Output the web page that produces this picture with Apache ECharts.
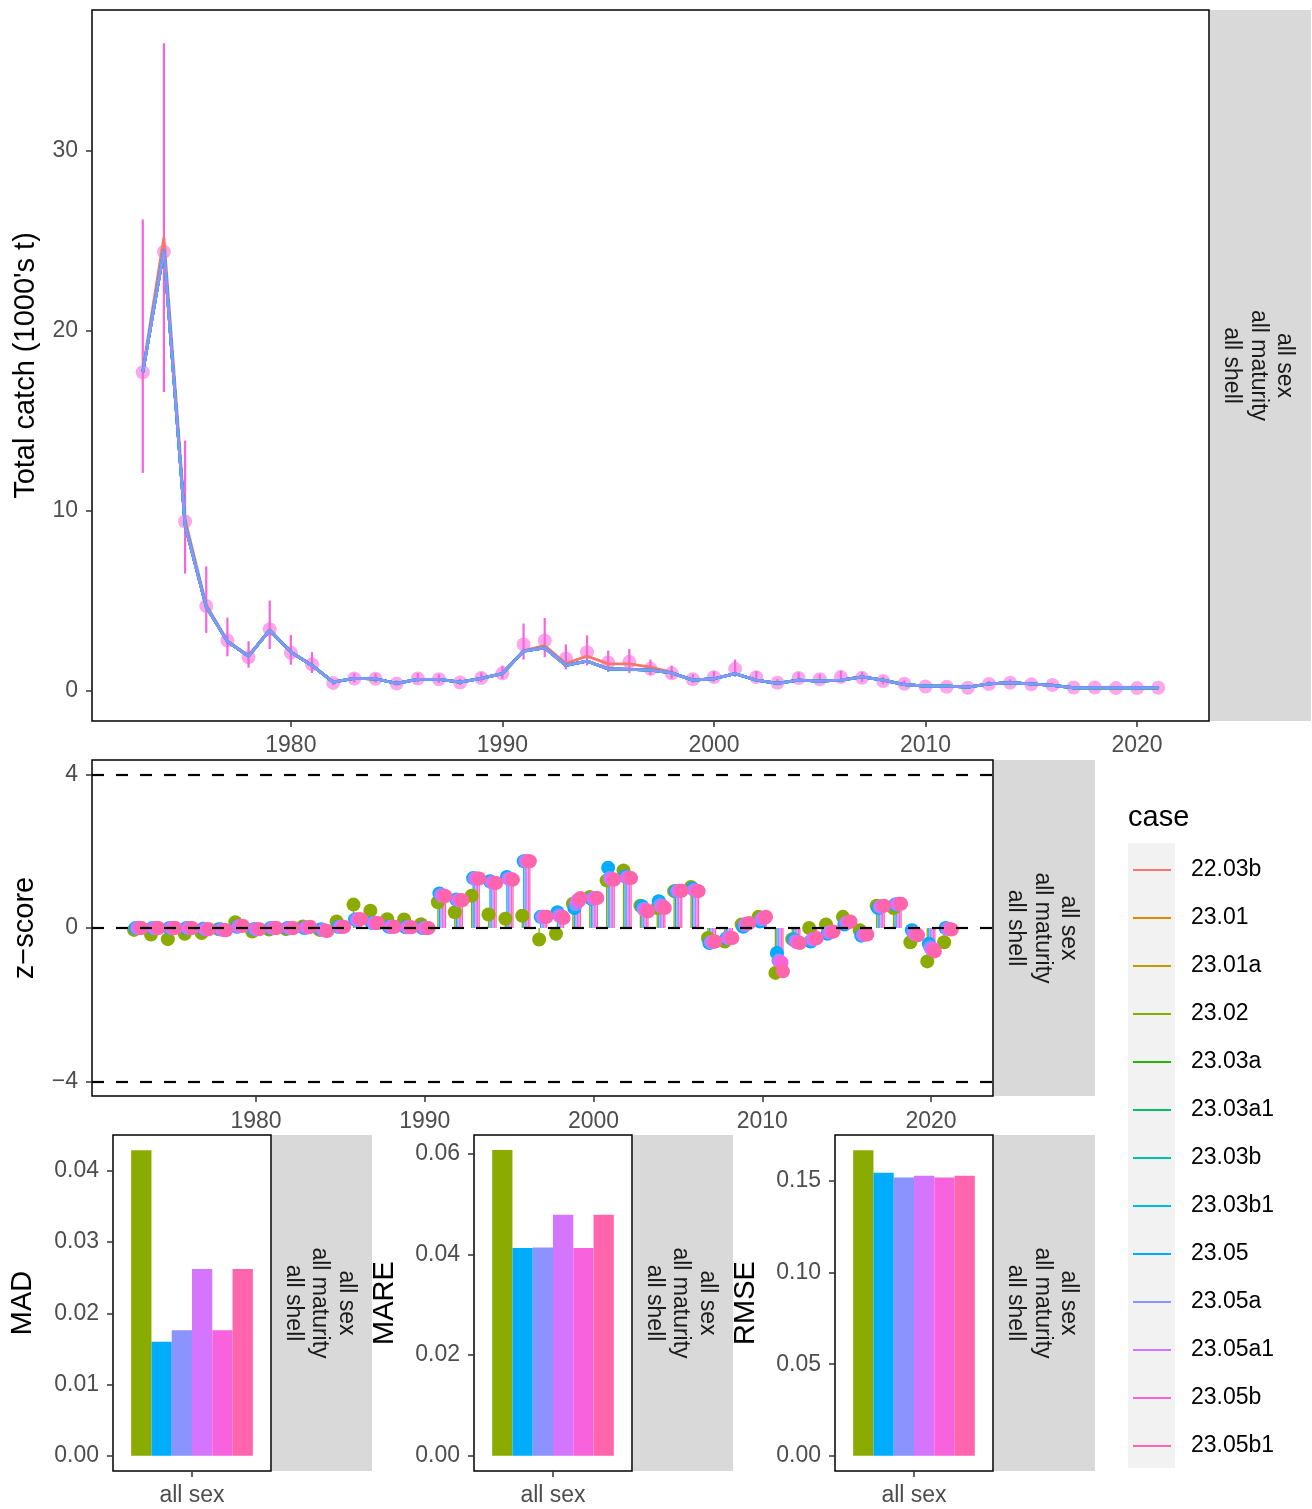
<!DOCTYPE html>
<html><head><meta charset="utf-8">
<script src="https://cdn.jsdelivr.net/npm/echarts@6/dist/echarts.min.js"></script>
<style>html,body{margin:0;padding:0;background:#fff}#c{width:1312px;height:1509px}</style>
</head><body><div id="c"></div>
<script>
const years = [1973,1974,1975,1976,1977,1978,1979,1980,1981,1982,1983,1984,1985,1986,1987,1988,1989,1990,1991,1992,1993,1994,1995,1996,1997,1998,1999,2000,2001,2002,2003,2004,2005,2006,2007,2008,2009,2010,2011,2012,2013,2014,2015,2016,2017,2018,2019,2020,2021];

const cases = ['22.03b','23.01','23.01a','23.02','23.03a','23.03a1','23.03b','23.03b1','23.05','23.05a','23.05a1','23.05b','23.05b1'];
const caseColors = ['#F8766D','#E18A00','#BE9C00','#8CAB00','#24B700','#00BE70','#00C1AB','#00BBDA','#00ACFC','#8B93FF','#D575FE','#F962DD','#FF65AC'];

// observed total catch (1000's t) with interval
const obsCatch = [17.7,24.4,9.4,4.7,2.78,1.85,3.4,2.1,1.45,0.42, 0.66,0.65,0.38,0.66,0.62,0.44,0.69,0.95,2.56,2.78, 1.78,2.13,1.55,1.59,1.2,0.95,0.62,0.74,1.2,0.74, 0.43,0.69,0.62,0.75,0.7,0.52,0.37,0.22,0.2,0.15, 0.36,0.43,0.34,0.3,0.16,0.16,0.13,0.13,0.15];
const obsLo = [12.1,16.6,6.5,3.2,1.9,1.27,2.3,1.43,0.97,0.29, 0.45,0.44,0.26,0.45,0.42,0.3,0.47,0.65,1.72,1.85, 1.17,1.39,1.02,0.96,0.85,0.65,0.42,0.5,0.76,0.5, 0.29,0.47,0.42,0.51,0.48,0.35,0.25,0.15,0.14,0.1, 0.25,0.29,0.23,0.2,0.11,0.11,0.09,0.09,0.1];
const obsHi = [26.2,36.0,13.9,6.9,4.05,2.74,5.0,3.09,2.13,0.61, 0.96,0.95,0.56,0.96,0.9,0.64,1.0,1.38,3.72,4.03, 2.56,3.06,2.22,2.31,1.72,1.38,0.9,1.07,1.72,1.07, 0.62,1.0,0.9,1.09,1.02,0.76,0.54,0.32,0.29,0.22, 0.52,0.62,0.49,0.43,0.23,0.23,0.19,0.19,0.22];

// model fits
const fit2203b = [17.8,25.2,9.5,4.75,2.75,1.93,3.38,2.15,1.41,0.47, 0.67,0.65,0.39,0.61,0.61,0.46,0.67,0.95,2.22,2.5, 1.5,1.91,1.48,1.48,1.3,1.0,0.58,0.65,0.93,0.57, 0.39,0.57,0.52,0.57,0.76,0.57,0.33,0.24,0.24,0.19, 0.37,0.43,0.37,0.28,0.15,0.15,0.15,0.15,0.15];
const fit23 = [17.7,24.5,9.2,4.65,2.72,1.91,3.35,2.13,1.39,0.46, 0.67,0.65,0.39,0.61,0.61,0.46,0.67,0.94,2.19,2.37, 1.39,1.63,1.2,1.17,1.13,0.98,0.57,0.65,0.93,0.57, 0.39,0.57,0.52,0.57,0.76,0.57,0.33,0.24,0.24,0.19, 0.37,0.43,0.37,0.28,0.15,0.15,0.15,0.15,0.15];
const lineCases = ['22.03b','23.01','23.01a','23.02','23.03a','23.03a1','23.03b','23.03b1','23.05','23.05a'];

// z-scores
const zCases = ['23.02','23.05','23.05a','23.05a1','23.05b','23.05b1'];
const z2302 = [-0.05,-0.17,-0.29,-0.15,-0.13,-0.03,0.15,-0.09,-0.04,-0.03, 0.04,-0.05,0.17,0.61,0.45,0.23,0.22,0.10,0.67,0.41, 0.84,0.35,0.24,0.32,-0.30,-0.15,0.63,0.81,1.24,1.50, 0.58,0.52,0.96,1.07,-0.26,-0.35,0.09,0.29,-1.17,-0.29, 0.00,0.09,0.29,-0.06,0.58,0.52,-0.37,-0.87,-0.37];
const z2305 = [0.00,0.00,0.00,0.00,-0.02,-0.03,0.03,-0.03,0.00,0.00, 0.00,-0.03,0.03,0.22,0.13,0.03,0.02,0.00,0.90,0.74, 1.30,1.22,1.33,1.74,0.29,0.41,0.52,0.76,1.57,1.35, 0.57,0.70,0.96,1.03,-0.39,-0.27,0.03,0.17,-0.65,-0.30, -0.35,-0.15,0.09,-0.20,0.52,0.61,-0.06,-0.41,0.00];
const z2305a = [0.00,0.00,0.00,0.00,-0.03,-0.04,0.04,-0.03,0.00,0.00, 0.01,-0.05,0.03,0.22,0.13,0.03,0.02,0.00,0.86,0.73, 1.29,1.19,1.29,1.74,0.29,0.33,0.62,0.77,1.30,1.32, 0.50,0.60,0.96,0.99,-0.37,-0.26,0.08,0.23,-0.85,-0.34, -0.30,-0.12,0.13,-0.18,0.55,0.62,-0.12,-0.50,-0.02];
const z2305a1 = [0.00,0.00,0.00,0.00,-0.03,-0.05,0.05,-0.03,0.00,0.00, 0.02,-0.06,0.03,0.23,0.13,0.03,0.02,0.00,0.84,0.72, 1.29,1.18,1.27,1.74,0.29,0.29,0.72,0.78,1.27,1.31, 0.46,0.55,0.97,0.97,-0.36,-0.26,0.11,0.27,-0.88,-0.37, -0.28,-0.10,0.15,-0.17,0.57,0.63,-0.16,-0.56,-0.03];
const z2305b = [0.00,0.00,0.00,0.00,-0.03,-0.05,0.05,-0.03,0.00,0.00, 0.02,-0.07,0.03,0.23,0.13,0.03,0.02,0.00,0.85,0.72, 1.29,1.18,1.28,1.74,0.29,0.30,0.70,0.78,1.28,1.31, 0.47,0.56,0.97,0.97,-0.36,-0.26,0.11,0.26,-0.90,-0.37, -0.28,-0.10,0.15,-0.17,0.57,0.63,-0.15,-0.55,-0.03];
const z2305b1 = [0.00,0.00,0.00,0.00,-0.03,-0.06,0.06,-0.03,0.00,0.00, 0.03,-0.08,0.03,0.23,0.13,0.03,0.02,0.00,0.83,0.72, 1.29,1.17,1.26,1.74,0.29,0.26,0.78,0.78,1.26,1.30, 0.43,0.52,0.97,0.96,-0.35,-0.26,0.13,0.29,-1.13,-0.39, -0.26,-0.09,0.17,-0.17,0.58,0.63,-0.19,-0.61,-0.04];
const zSeriesData = [z2302, z2305, z2305a, z2305a1, z2305b, z2305b1];

// fit statistics
const madVals  = [0.0429, 0.0160, 0.01763, 0.02622, 0.01763, 0.02622];
const mareVals = [0.0608, 0.0413, 0.0414, 0.0479, 0.0413, 0.0479];
const rmseVals = [0.1668, 0.1545, 0.1520, 0.1529, 0.1520, 0.1529];
const barCategory = ['all sex'];

const catchTicks = [0, 10, 20, 30];
const yearTicks = [1980, 1990, 2000, 2010, 2020];
const zTicks = [-4, 0, 4];
const madTicks = [0, 0.01, 0.02, 0.03, 0.04];
const mareTicks = [0, 0.02, 0.04, 0.06];
const rmseTicks = [0, 0.05, 0.10, 0.15];
const stripLabel = 'all sex\nall maturity\nall shell';

const FONT = "'Liberation Sans', Arial, Helvetica, sans-serif";
const colorOf = c => caseColors[cases.indexOf(c)];
const minusFmt = v => (v < 0 ? '\u2212' + Math.abs(v) : String(v));
const plainFmt = v => String(v);

const chart = echarts.init(document.getElementById('c'));

const grids = [
  {left: 92, top: 10, width: 1117, height: 711},
  {left: 92, top: 760, width: 901, height: 336},
  {left: 113, top: 1135, width: 158, height: 336},
  {left: 474, top: 1135, width: 158, height: 336},
  {left: 835, top: 1135, width: 158, height: 336}
].map(g => Object.assign(g, {show: true, borderColor: '#000', borderWidth: 1.5, backgroundColor: '#fff'}));

const labelStyle = {color: '#4D4D4D', fontSize: 23, fontFamily: FONT};
const tickStyle = {show: true, length: 6, lineStyle: {color: '#333', width: 1.5}};
const nameStyle = {color: '#000', fontSize: 29, fontFamily: FONT};

function valueAxis(gi, min, max, ticks, fmt, margin, extra, pad) {
  return Object.assign({
    type: 'value', gridIndex: gi, min: min, max: max,
    axisLine: {show: false, onZero: false}, splitLine: {show: false},
    axisTick: Object.assign({customValues: ticks}, tickStyle),
    axisLabel: Object.assign({customValues: ticks, formatter: fmt, margin: margin, padding: pad || 0}, labelStyle)
  }, extra || {});
}
function catAxis(gi) {
  return {type: 'category', gridIndex: gi, data: barCategory,
    axisLine: {show: false, onZero: false},
    axisTick: Object.assign({alignWithLabel: true}, tickStyle),
    axisLabel: Object.assign({margin: 13}, labelStyle)};
}

const xAxes = [
  valueAxis(0, 1970.6, 2023.4, yearTicks, plainFmt, 13),
  valueAxis(1, 1970.28, 2023.67, yearTicks, plainFmt, 14),
  catAxis(2), catAxis(3), catAxis(4)
];

const yPad = [4, 0, 0, 0];
const yAxes = [
  valueAxis(0, -1.7, 37.85, catchTicks, plainFmt, 14, {name: "Total catch (1000's t)", nameLocation: 'middle', nameGap: 52, nameTextStyle: nameStyle}, yPad),
  valueAxis(1, -4.378, 4.378, zTicks, minusFmt, 14, {name: 'z\u2212score', nameLocation: 'middle', nameGap: 53, nameTextStyle: nameStyle}, yPad),
  valueAxis(2, -0.00215, 0.04505, madTicks, v => v.toFixed(2), 14, {name: 'MAD', nameLocation: 'middle', nameGap: 76, nameTextStyle: nameStyle}, yPad),
  valueAxis(3, -0.00304, 0.06376, mareTicks, v => v.toFixed(2), 14, {name: 'MARE', nameLocation: 'middle', nameGap: 75, nameTextStyle: nameStyle}, yPad),
  valueAxis(4, -0.00834, 0.17514, rmseTicks, v => v.toFixed(2), 14, {name: 'RMSE', nameLocation: 'middle', nameGap: 75, nameTextStyle: nameStyle}, yPad)
];

const series = [];

// observed points
series.push({
  name: 'observed', type: 'scatter', xAxisIndex: 0, yAxisIndex: 0, z: 3,
  symbolSize: 14, itemStyle: {color: 'rgba(249,98,221,0.7)'},
  data: years.map((y, i) => [y, obsCatch[i]])
});
// error bars
series.push({
  name: 'observed interval', type: 'custom', xAxisIndex: 0, yAxisIndex: 0, z: 4,
  data: years.map((y, i) => [y, obsLo[i], obsHi[i]]),
  encode: {x: 0, y: [1, 2]},
  renderItem: (params, api) => {
    const a = api.coord([api.value(0), api.value(1)]);
    const b = api.coord([api.value(0), api.value(2)]);
    return {type: 'line', shape: {x1: a[0], y1: a[1], x2: b[0], y2: b[1]}, style: {stroke: '#F962DD', lineWidth: 2.2}};
  }
});
// model lines
lineCases.forEach(c => {
  const fit = c === '22.03b' ? fit2203b : fit23;
  series.push({
    name: c, type: 'line', xAxisIndex: 0, yAxisIndex: 0, z: 5,
    showSymbol: false, symbol: 'none', color: colorOf(c),
    lineStyle: {color: colorOf(c), width: 2.8},
    data: years.map((y, i) => [y, fit[i]])
  });
});

// z-score segments and points
zCases.forEach((c, j) => {
  const dodge = (j - 2.5) * 0.09;
  const zs = zSeriesData[j];
  const seg = {
    name: c, type: 'custom', xAxisIndex: 1, yAxisIndex: 1, z: 2,
    data: years.map((y, i) => [y + dodge, zs[i]]),
    encode: {x: 0, y: 1},
    itemStyle: {color: colorOf(c)},
    renderItem: (params, api) => {
      const a = api.coord([api.value(0), 0]);
      const b = api.coord([api.value(0), api.value(1)]);
      return {type: 'line', shape: {x1: a[0], y1: a[1], x2: b[0], y2: b[1]}, style: {stroke: colorOf(c), lineWidth: 1.3}};
    }
  };
  if (j === 0) {
    seg.markLine = {
      silent: true, symbol: 'none', label: {show: false},
      lineStyle: {color: '#000', width: 2.2, type: [12, 12]},
      data: [{yAxis: 4}, {yAxis: 0}, {yAxis: -4}]
    };
  }
  series.push(seg);
});
zCases.forEach((c, j) => {
  const dodge = (j - 2.5) * 0.09;
  const zs = zSeriesData[j];
  series.push({
    name: c, type: 'scatter', xAxisIndex: 1, yAxisIndex: 1, z: 3,
    symbolSize: 14, color: colorOf(c), itemStyle: {color: colorOf(c), opacity: 1},
    data: years.map((y, i) => [y + dodge, zs[i]])
  });
});

// bars
[[2, madVals], [3, mareVals], [4, rmseVals]].forEach(([gi, vals]) => {
  zCases.forEach((c, j) => {
    series.push({
      name: c, type: 'bar', xAxisIndex: gi, yAxisIndex: gi,
      barGap: '0%', barCategoryGap: '23%',
      color: colorOf(c), itemStyle: {color: colorOf(c)},
      data: [vals[j]]
    });
  });
});

// strips and legend decorations
const graphics = [];
const strips = [
  {x: 1210, y: 10, w: 101, h: 711},
  {x: 994, y: 760, w: 101, h: 336},
  {x: 272, y: 1135, w: 100, h: 336},
  {x: 633, y: 1135, w: 100, h: 336},
  {x: 994, y: 1135, w: 101, h: 336}
];
strips.forEach(s => {
  graphics.push({type: 'rect', shape: {x: s.x, y: s.y, width: s.w, height: s.h}, style: {fill: '#D9D9D9'}, silent: true});
  graphics.push({type: 'text', x: s.x + s.w / 2 - 2.5, y: s.y + s.h / 2, rotation: -Math.PI / 2, silent: true,
    style: {text: stripLabel, fill: '#1A1A1A', font: '23px ' + FONT, align: 'center', verticalAlign: 'middle', lineHeight: 26.5}});
});
graphics.push({type: 'rect', shape: {x: 1128, y: 843, width: 47, height: 625}, style: {fill: '#F2F2F2'}, silent: true, z: -1});
graphics.push({type: 'text', x: 1128, y: 818, silent: true,
  style: {text: 'case', fill: '#000', font: '29px ' + FONT, align: 'left', verticalAlign: 'middle'}});

chart.setOption({
  animation: false,
  backgroundColor: '#fff',
  textStyle: {fontFamily: FONT},
  grid: grids,
  xAxis: xAxes,
  yAxis: yAxes,
  legend: {
    data: cases, orient: 'vertical', left: 1133, top: 858, padding: 0,
    itemWidth: 38, itemHeight: 2, itemGap: 24, icon: 'rect',
    textStyle: {fontSize: 23, fontFamily: FONT, color: '#000', lineHeight: 24, padding: [0, 0, 0, 15]}
  },
  graphic: graphics,
  series: series
});
</script>
</body></html>
